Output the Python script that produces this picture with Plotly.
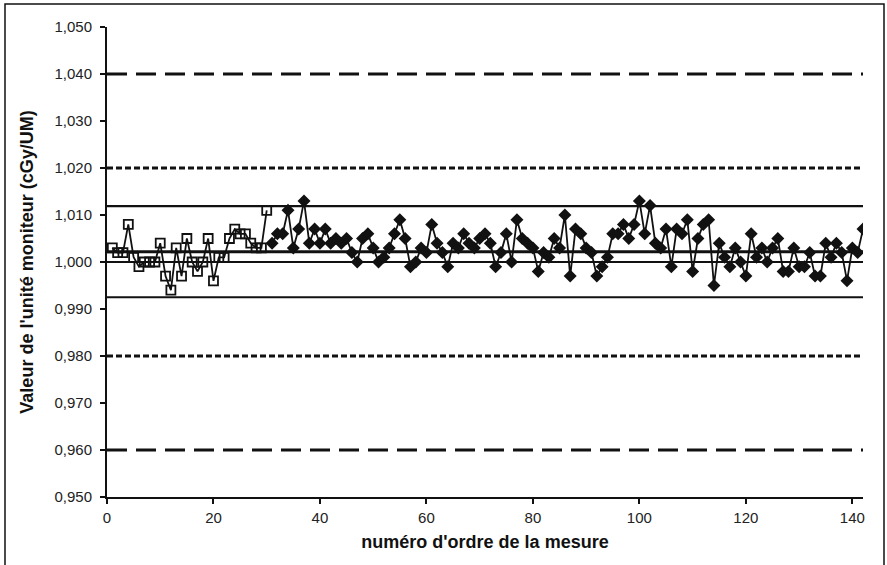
import plotly.graph_objects as go

# ---- data ----
x_series1 = list(range(1, 31))
y_series1 = [1.003, 1.002, 1.002, 1.008, 1.001, 0.999, 1.000, 1.000, 1.000, 1.004,
             0.997, 0.994, 1.003, 0.997, 1.005, 1.000, 0.998, 1.000, 1.005, 0.996,
             1.001, 1.001, 1.005, 1.007, 1.006, 1.006, 1.004, 1.003, 1.003, 1.011]

x_series2 = list(range(31, 143))
y_series2 = [1.004, 1.006, 1.006, 1.011, 1.003, 1.007, 1.013, 1.004, 1.007, 1.004,
             1.007, 1.004, 1.005, 1.004, 1.005, 1.002, 1.000, 1.005, 1.006, 1.003,
             1.000, 1.001, 1.003, 1.006, 1.009, 1.005, 0.999, 1.000, 1.003, 1.002,
             1.008, 1.004, 1.002, 0.999, 1.004, 1.003, 1.006, 1.004, 1.003, 1.005,
             1.006, 1.004, 0.999, 1.002, 1.006, 1.000, 1.009, 1.005, 1.004, 1.003,
             0.998, 1.002, 1.001, 1.005, 1.003, 1.010, 0.997, 1.007, 1.006, 1.003,
             1.002, 0.997, 0.999, 1.001, 1.006, 1.006, 1.008, 1.005, 1.008, 1.013,
             1.006, 1.012, 1.004, 1.003, 1.007, 0.999, 1.007, 1.006, 1.009, 0.998,
             1.005, 1.008, 1.009, 0.995, 1.004, 1.001, 0.999, 1.003, 1.000, 0.997,
             1.006, 1.001, 1.003, 1.000, 1.003, 1.005, 0.998, 0.998, 1.003, 0.999,
             0.999, 1.002, 0.997, 0.997, 1.004, 1.001, 1.004, 1.002, 0.996, 1.003,
             1.002, 1.007]

# reference levels
tolerance_levels = [1.040, 0.960]      # long dash
action_levels = [1.020, 0.980]         # short dash
control_levels = [1.0119, 0.9925]      # thin solid
mean_level = 1.0022
nominal_level = 1.000

x_ticks = [0, 20, 40, 60, 80, 100, 120, 140]
y_ticks = [0.950, 0.960, 0.970, 0.980, 0.990, 1.000, 1.010, 1.020, 1.030, 1.040, 1.050]
X_MAX = 142

FONT = "Liberation Sans, Arial, sans-serif"
INK = "#111111"

fig = go.Figure()

for lv in tolerance_levels:
    fig.add_hline(y=lv, line=dict(color=INK, width=3, dash="20px,9px"), layer="below")
for lv in action_levels:
    fig.add_hline(y=lv, line=dict(color=INK, width=3, dash="6px,3px"), layer="below")
for lv in control_levels:
    fig.add_hline(y=lv, line=dict(color=INK, width=2.2), layer="below")
fig.add_hline(y=mean_level, line=dict(color=INK, width=3), layer="below")
fig.add_hline(y=nominal_level, line=dict(color=INK, width=2.2), layer="below")

fig.add_trace(go.Scatter(
    x=x_series1, y=y_series1, mode="lines+markers",
    line=dict(color=INK, width=1.8),
    marker=dict(symbol="square-open", size=9, color=INK, line=dict(width=1.8, color=INK)),
    showlegend=False, hoverinfo="x+y"))

fig.add_trace(go.Scatter(
    x=x_series2, y=y_series2, mode="lines+markers",
    line=dict(color=INK, width=1.8),
    marker=dict(symbol="diamond", size=10, color=INK),
    showlegend=False, hoverinfo="x+y"))

# outer frame (plot area spans 107..863 px horizontally, 27..497 px vertically)
PW, PH = 756.0, 470.0
fig.add_shape(type="rect", xref="paper", yref="paper",
              x0=(5 - 107) / PW, x1=(884 - 107) / PW,
              y0=(497 - 570) / PH, y1=(497 - 4) / PH,
              line=dict(color=INK, width=1.5), layer="below")

fig.update_layout(
    width=887, height=565,
    margin=dict(l=107, r=24, t=27, b=68),
    paper_bgcolor="white", plot_bgcolor="white",
    separators=", ",
    font=dict(family=FONT, size=15, color=INK),
    showlegend=False,
)

fig.update_xaxes(
    range=[0, X_MAX], tickvals=x_ticks, ticktext=[str(v) for v in x_ticks],
    showgrid=False, zeroline=False,
    showline=True, linecolor=INK, linewidth=2,
    ticks="outside", ticklen=5, tickwidth=1.5, tickcolor=INK,
    ticklabelstandoff=1,
    tickfont=dict(size=15, family=FONT, color="#222222"),
    title=dict(text="<b>numéro d'ordre de la mesure</b>", font=dict(size=18, family=FONT, color=INK), standoff=10),
)
fig.update_yaxes(
    range=[0.950, 1.050], tickvals=y_ticks, tickformat=".3f",
    showgrid=False, zeroline=False,
    showline=True, linecolor=INK, linewidth=2,
    ticks="outside", ticklen=5, tickwidth=1.5, tickcolor=INK,
    ticklabelstandoff=5,
    tickfont=dict(size=15, family=FONT, color="#222222"),
    title=dict(text="<b>Valeur de l'unité moniteur (cGy/UM)</b>", font=dict(size=18, family=FONT, color=INK), standoff=16),
)

fig.write_html("out.html", config={"displayModeBar": False},
               post_script="document.body.style.margin='0';")
